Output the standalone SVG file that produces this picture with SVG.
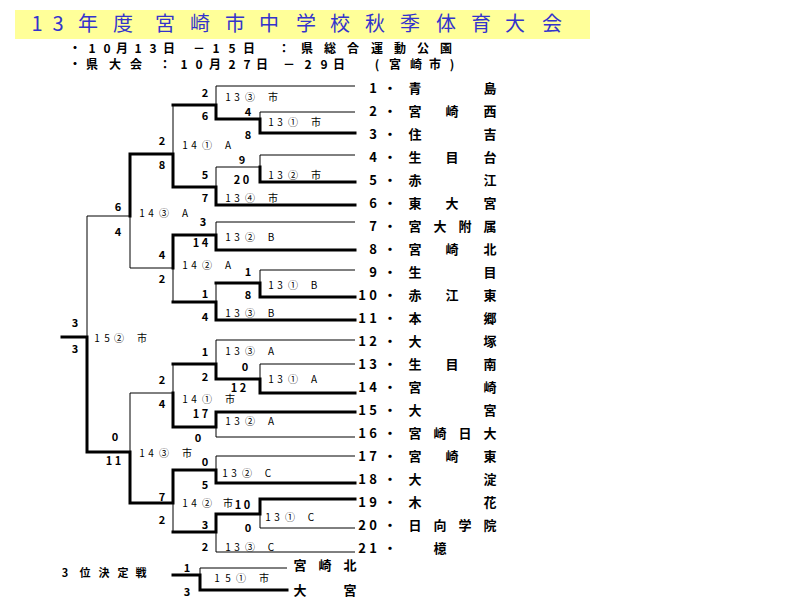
<svg xmlns="http://www.w3.org/2000/svg" width="800" height="600" viewBox="0 0 800 600">
<style>
text{font-family:"Noto Sans CJK JP","Noto Sans",sans-serif;fill:#000;text-anchor:middle}
.ttl{font-size:20px;fill:#3333cc}
.sub{font-size:12px;font-weight:bold}
.tm{font-size:13px;font-weight:bold}
.sc{font-size:11px;font-weight:bold}
.m{font-size:10px}
.t{fill:none;stroke:#000;stroke-width:1}
.k{fill:none;stroke:#000;stroke-width:3;stroke-linecap:square}
</style>
<rect width="800" height="600" fill="#fff"/>
<g id="header">
<rect x="15" y="10" width="575" height="29" fill="#ffff99"/>
<text class="ttl" x="37 58 88 123 165 200 235 269 306 340 375 410 446 481 515 552" y="31">13年度宮崎市中学校秋季体育大会</text>
<text class="sub" x="75 92 107 122 138 153 169 199 216 232 249 284 307 330 353 377 400 423 446" y="53">・10月13日－15日：県総合運動公園</text>
<text class="sub" x="75 92 115 136 165 184 199 215 232 247 262 289 308 324 339 377 395 416 435 452" y="69">・県大会：10月27日－29日(宮崎市)</text>
</g>
<g id="connectors">
<path class="t" d="M216,86H355M260,112H355M216,86V105M260,112V119M260,155H355M260,155V167M216,167H260M216,167V187M173,105V154M216,222H355M216,222V235M260,270H355M260,270V283M216,283V302M173,268V302M130,268H173M130,216V268M87,216H130M87,216V337"/>
<path class="t" d="M216,340H355M216,340V364M260,364H355M260,364V379M173,364V393M130,393H173M216,437H355M216,427V437M130,393V452M216,456H355M216,456V470M260,528H355M260,514V528M216,532V552M216,552H355M173,503V532"/>
<path class="t" d="M200,568V575M200,568H287"/>
<path class="k" d="M355,133H260V119H216V105H173"/>
<path class="k" d="M355,182H260V167"/>
<path class="k" d="M355,205H216V187H173V154H130V216"/>
<path class="k" d="M355,250H216V235H173V268"/>
<path class="k" d="M355,297H260V283H216"/>
<path class="k" d="M355,320H216V302H173"/>
<path class="k" d="M62,337H87V452H130V503H173V470H216V483H355"/>
<path class="k" d="M355,393H260V379H216V364H173"/>
<path class="k" d="M173,393V427H216V412H355"/>
<path class="k" d="M355,499H260V514H216V532H173"/>
<path class="k" d="M173,575H200V590H287"/>
</g>
<g id="teams">
<g id="t1"><text class="tm" x="373 390 415 490" y="93">1・青島</text></g>
<g id="t2"><text class="tm" x="373 390 415 452 490" y="116">2・宮崎西</text></g>
<g id="t3"><text class="tm" x="373 390 415 490" y="139">3・住吉</text></g>
<g id="t4"><text class="tm" x="373 390 415 452 490" y="162">4・生目台</text></g>
<g id="t5"><text class="tm" x="373 390 415 490" y="185">5・赤江</text></g>
<g id="t6"><text class="tm" x="373 390 415 452 490" y="208">6・東大宮</text></g>
<g id="t7"><text class="tm" x="373 390 415 440 465 490" y="231">7・宮大附属</text></g>
<g id="t8"><text class="tm" x="373 390 415 452 490" y="254">8・宮崎北</text></g>
<g id="t9"><text class="tm" x="373 390 415 490" y="277">9・生目</text></g>
<g id="t10"><text class="tm" x="362 373 390 415 452 490" y="300">10・赤江東</text></g>
<g id="t11"><text class="tm" x="362 373 390 415 490" y="323">11・本郷</text></g>
<g id="t12"><text class="tm" x="362 373 390 415 490" y="346">12・大塚</text></g>
<g id="t13"><text class="tm" x="362 373 390 415 452 490" y="369">13・生目南</text></g>
<g id="t14"><text class="tm" x="362 373 390 415 490" y="392">14・宮崎</text></g>
<g id="t15"><text class="tm" x="362 373 390 415 490" y="415">15・大宮</text></g>
<g id="t16"><text class="tm" x="362 373 390 415 440 465 490" y="438">16・宮崎日大</text></g>
<g id="t17"><text class="tm" x="362 373 390 415 452 490" y="461">17・宮崎東</text></g>
<g id="t18"><text class="tm" x="362 373 390 415 490" y="484">18・大淀</text></g>
<g id="t19"><text class="tm" x="362 373 390 415 490" y="507">19・木花</text></g>
<g id="t20"><text class="tm" x="362 373 390 415 440 465 490" y="530">20・日向学院</text></g>
<g id="t21"><text class="tm" x="362 373 390 440" y="553">21・檍</text></g>
<g id="p3a"><text class="tm" x="300 325 350" y="570">宮崎北</text></g>
<g id="p3b"><text class="tm" x="300 350" y="595">大宮</text></g>
</g>
<g id="matches">
<g id="m1"><text class="m" x="228 237 250 273" y="101">13③市</text></g>
<g id="m2"><text class="m" x="271 280 293 316" y="126">13①市</text></g>
<g id="m3"><text class="m" x="185 194 207 228" y="149">14①A</text></g>
<g id="m4"><text class="m" x="271 280 293 316" y="179">13②市</text></g>
<g id="m5"><text class="m" x="228 237 250 273" y="202">13④市</text></g>
<g id="m6"><text class="m" x="142 151 164 185" y="217">14③A</text></g>
<g id="m7"><text class="m" x="228 237 250 271" y="241">13②B</text></g>
<g id="m8"><text class="m" x="185 194 207 228" y="269">14②A</text></g>
<g id="m9"><text class="m" x="271 280 293 314" y="289">13①B</text></g>
<g id="m10"><text class="m" x="228 237 250 271" y="317">13③B</text></g>
<g id="m11"><text class="m" x="97 107 119 142" y="342">15②市</text></g>
<g id="m12"><text class="m" x="228 237 250 271" y="355">13③A</text></g>
<g id="m13"><text class="m" x="271 280 293 314" y="383">13①A</text></g>
<g id="m14"><text class="m" x="185 194 207 230" y="403">14①市</text></g>
<g id="m15"><text class="m" x="228 237 250 271" y="425">13②A</text></g>
<g id="m16"><text class="m" x="142 151 164 187" y="457">14③市</text></g>
<g id="m17"><text class="m" x="225 234 247 268" y="477">13②C</text></g>
<g id="m18"><text class="m" x="185 194 207 228" y="507">14②市</text></g>
<g id="m19"><text class="m" x="268 277 290 311" y="521">13①C</text></g>
<g id="m20"><text class="m" x="228 237 250 271" y="551">13③C</text></g>
<g id="m21"><text class="m" x="217 228 241 264" y="582">15①市</text></g>
<text class="sc" x="65 85 104 123 141" y="577">3位決定戦</text>
</g>
<g id="scores">
<text class="sc" x="205" y="97">2</text><text class="sc" x="205" y="120">6</text>
<text class="sc" x="248" y="116">4</text><text class="sc" x="248" y="139">8</text>
<text class="sc" x="162" y="145">2</text><text class="sc" x="162" y="169">8</text>
<text class="sc" x="242" y="164">9</text><text class="sc" x="237 246" y="184">20</text>
<text class="sc" x="205" y="179">5</text><text class="sc" x="205" y="202">7</text>
<text class="sc" x="118" y="211">6</text><text class="sc" x="118" y="236">4</text>
<text class="sc" x="203" y="226">3</text><text class="sc" x="196 205" y="247">14</text>
<text class="sc" x="162" y="259">4</text><text class="sc" x="162" y="283">2</text>
<text class="sc" x="248" y="276">1</text><text class="sc" x="248" y="299">8</text>
<text class="sc" x="205" y="298">1</text><text class="sc" x="205" y="321">4</text>
<text class="sc" x="75" y="327">3</text><text class="sc" x="75" y="353">3</text>
<text class="sc" x="205" y="356">1</text><text class="sc" x="205" y="381">2</text>
<text class="sc" x="245" y="371">0</text><text class="sc" x="234 243" y="392">12</text>
<text class="sc" x="162" y="384">2</text><text class="sc" x="162" y="408">4</text>
<text class="sc" x="196 205" y="418">17</text><text class="sc" x="198" y="442">0</text>
<text class="sc" x="115" y="441">0</text><text class="sc" x="109 118" y="465">11</text>
<text class="sc" x="205" y="466">0</text><text class="sc" x="205" y="489">5</text>
<text class="sc" x="162" y="501">7</text><text class="sc" x="162" y="524">2</text>
<text class="sc" x="238 247" y="509">10</text><text class="sc" x="248" y="532">0</text>
<text class="sc" x="205" y="529">3</text><text class="sc" x="205" y="551">2</text>
<text class="sc" x="187" y="572">1</text><text class="sc" x="187" y="596">3</text>
</g>
</svg>
